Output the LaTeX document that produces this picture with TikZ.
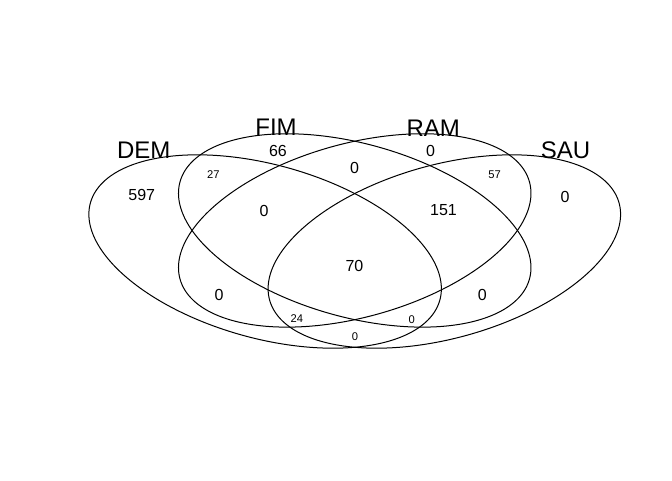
\documentclass[tikz,border=0pt]{standalone}
\usepackage{fontspec}
\setmainfont{Liberation Sans}
\begin{document}
\begin{tikzpicture}[
  vline/.style={line width=0.75pt, black},
  setname/.style={inner sep=0pt, font=\fontsize{18}{18}\selectfont},
  bignum/.style={inner sep=0pt, font=\fontsize{12}{12}\selectfont},
  smallnum/.style={inner sep=0pt, font=\fontsize{8.4}{8.4}\selectfont}
]
\useasboundingbox (0,0) rectangle (504pt,360pt);
% ellipses in the plot's data coordinates (a=162, b=108)
\begin{scope}[shift={(74.03pt,81.83pt)}, x=0.9601pt, y=0.5267pt]
  \draw[vline] plot[domain=0:360, samples=361, variable=\t]
    ({130+162*cos(\t)*cos(135)-108*sin(\t)*sin(135)},{170+162*cos(\t)*sin(135)+108*sin(\t)*cos(135)}) -- cycle;
  \draw[vline] plot[domain=0:360, samples=361, variable=\t]
    ({200+162*cos(\t)*cos(135)-108*sin(\t)*sin(135)},{200+162*cos(\t)*sin(135)+108*sin(\t)*cos(135)}) -- cycle;
  \draw[vline] plot[domain=0:360, samples=361, variable=\t]
    ({200+162*cos(\t)*cos(45)-108*sin(\t)*sin(45)},{200+162*cos(\t)*sin(45)+108*sin(\t)*cos(45)}) -- cycle;
  \draw[vline] plot[domain=0:360, samples=361, variable=\t]
    ({270+162*cos(\t)*cos(45)-108*sin(\t)*sin(45)},{170+162*cos(\t)*sin(45)+108*sin(\t)*cos(45)}) -- cycle;
\end{scope}
% texts in pixel coordinates (y downwards)
\begin{scope}[shift={(0pt,360pt)}, x=0.75pt, y=-0.75pt]
  \node[setname] (nDEM) at (143.8,150.3) {DEM};
  \node[setname] (nFIM) at (276,127.5) {FIM};
  \node[setname] (nRAM) at (433.3,128.3) {RAM};
  \node[setname] (nSAU) at (565.5,150.7) {SAU};
  \node[bignum] (r1000) at (141.8,195) {597};
  \node[bignum] (r0100) at (278,151) {66};
  \node[bignum] (r0010) at (430.5,150.8) {0};
  \node[bignum] (r0001) at (565,196.8) {0};
  \node[smallnum] (r1100) at (213.3,175) {27};
  \node[bignum] (r0110) at (354.5,168.3) {0};
  \node[smallnum] (r0011) at (494.7,175.2) {57};
  \node[bignum] (r1110) at (264,210.5) {0};
  \node[bignum] (r0111) at (443.5,210.2) {151};
  \node[bignum] (r1111) at (354.5,266) {70};
  \node[bignum] (r1010) at (219,295) {0};
  \node[bignum] (r0101) at (482.2,295) {0};
  \node[smallnum] (r1011) at (296.8,318.7) {24};
  \node[smallnum] (r1101) at (411.8,319.2) {0};
  \node[smallnum] (r1001) at (355,337.1) {0};
\end{scope}
\end{tikzpicture}
\end{document}
